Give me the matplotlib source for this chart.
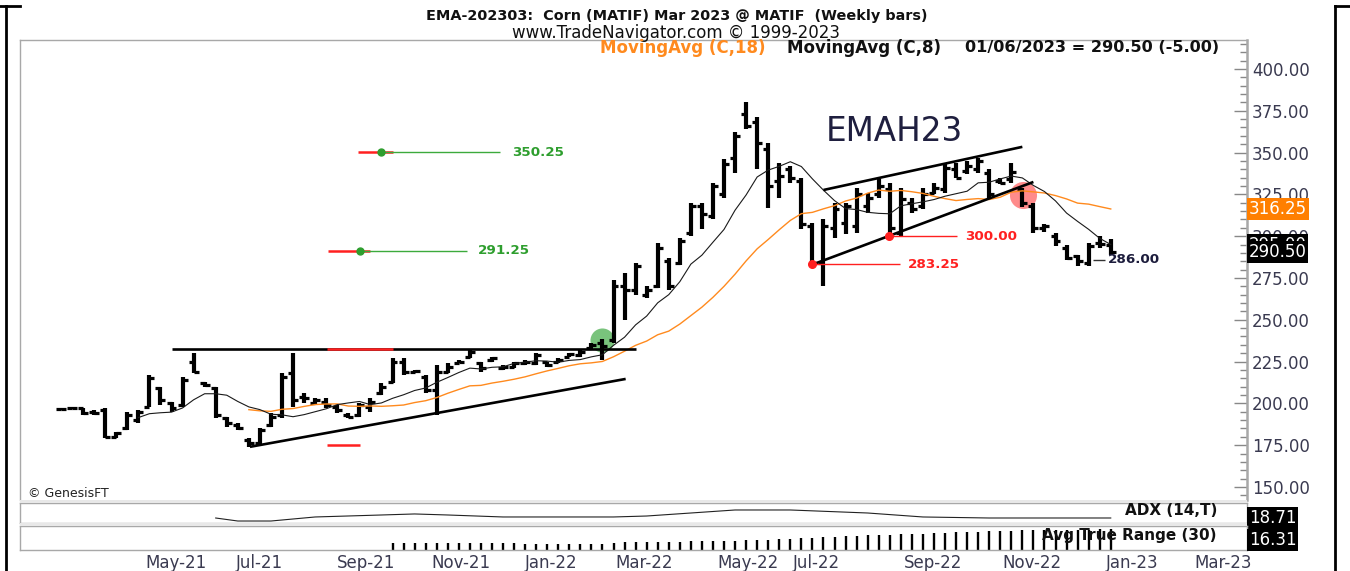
import numpy as np
import pandas as pd
import matplotlib
matplotlib.use("Agg")
import matplotlib.pyplot as plt
import matplotlib.transforms as mtransforms
from matplotlib.patches import Rectangle
from matplotlib.lines import Line2D
from matplotlib.ticker import MultipleLocator, FormatStrFormatter

plt.rcParams['font.family'] = ['DejaVu Sans']

# weekly bars, Corn (MATIF) Mar 2023, last bar 01/06/2023
opens = [196.5, 197, 197, 195, 196, 180, 185, 190, 198, 209,
         200, 199, 225, 212, 209, 191, 187, 178, 176, 187,
         193, 218, 204, 200, 201, 198, 193, 193, 198, 206,
         213, 225, 219, 216, 208, 219, 224, 228, 224, 226,
         221, 222, 224, 224, 225, 225, 228, 229, 233, 236,
         238, 270, 268, 265, 270, 285, 284, 302, 318, 312,
         325, 347, 373, 368, 352, 333, 340, 333, 306, 284,
         305, 308, 306, 318, 325, 328, 302, 320, 318, 326,
         328, 340, 339, 340, 338, 333, 334, 328, 318, 305,
         300, 293, 288, 284, 296, 295]
highs = [197, 198, 197.5, 196, 197, 183, 195, 196, 217, 210,
         201, 216, 230, 213, 210, 192, 188, 179, 185, 194,
         218, 230, 206, 203, 203, 199, 194, 200, 203, 212,
         227, 227, 220, 217, 223, 224, 226, 232, 225, 228,
         223, 225, 226, 230, 225, 227, 230, 232, 236, 238.5,
         274, 278, 284, 270, 296, 287, 299, 320, 320, 332,
         346, 362, 380, 371, 356, 344, 342, 335, 308, 310,
         320, 320, 329, 326, 334, 332, 329, 323, 329, 332,
         343, 344, 345, 347, 340, 335, 344, 329, 320, 307,
         302, 295, 289, 296, 300, 298]
lows = [196, 196.5, 193, 193, 179, 179, 184, 188, 198, 199,
        195, 198, 218, 210, 191, 186, 184, 174, 175, 186,
        191, 198, 200, 199, 197, 194, 191, 192, 195, 205,
        212, 217, 218, 206, 193, 218, 224, 227, 219, 225,
        220, 221, 223, 223, 222, 224, 228, 228, 232, 226,
        236, 250, 265, 263, 269, 268, 283, 300, 304, 310,
        323, 338, 364, 340, 317, 323, 332, 304, 282, 270,
        299, 301, 302, 314, 323, 300, 300, 314, 316, 325,
        326, 335, 337, 338, 323, 331, 332, 317.5, 302, 302.5,
        294, 286, 282, 282, 293, 289]
closes = [196.5, 197.5, 194, 194, 180, 182, 193, 195, 215, 202,
          197, 214, 219, 211, 193, 188, 185, 176, 184, 192,
          216, 202, 203, 202, 199, 196, 192, 199, 201, 210,
          225, 219, 219.5, 208, 219, 222, 225, 231, 221, 227,
          222, 224, 225, 229, 223, 226, 229.5, 231, 235, 234,
          270, 268, 282, 268, 293, 270, 297, 318, 313, 330,
          343, 360, 366, 356, 330, 336, 335, 307, 284, 306,
          316, 318, 325, 323, 330, 305, 322, 316, 325, 329,
          341, 335, 342, 345, 325, 332, 338.5, 320, 305, 306,
          297, 287, 285, 294, 295.5, 290.5]

month_labels = ['May-21', 'Jul-21', 'Sep-21', 'Nov-21', 'Jan-22', 'Mar-22',
                'May-22', 'Jul-22', 'Sep-22', 'Nov-22', 'Jan-23', 'Mar-23']
month_pos = [7.6, 15.8, 25.0, 33.5, 42.0, 50.2, 59.4, 66.2, 76.3, 85.2, 94.6, 102.6]

# ADX (14,T)
adx_bars = [14, 16, 19, 23, 29, 32, 35, 40, 50, 53, 57, 61, 66, 73, 78, 84, 95]
adx_vals = [18.7, 14.0, 14.0, 20.3, 23.4, 25.0, 23.4, 20.3, 20.3, 21.8,
            26.5, 31.2, 31.2, 26.5, 20.3, 18.7, 18.71]

# Avg True Range (30), starts at bar 30
atr_vals = [9.4, 9.4, 9.5, 9.5, 9.6, 9.5, 9.5, 9.4, 9.4, 9.3,
            9.3, 9.3, 9.2, 9.2, 9.2, 9.1, 9.1, 9.1, 9.1, 9.2,
            9.6, 9.8, 9.9, 10.0, 10.1, 10.2, 10.2, 10.3, 10.4, 10.5,
            10.6, 10.6, 10.8, 11.0, 11.2, 11.4, 11.6, 11.9, 12.2, 12.5,
            12.7, 12.9, 13.1, 13.3, 13.5, 13.7, 13.9, 14.1, 14.2, 14.4,
            14.6, 14.8, 15.0, 15.2, 15.4, 15.6, 15.7, 15.8, 15.9, 16.0,
            16.1, 16.1, 16.2, 16.2, 16.3, 16.31]

# hand drawn study lines (bar index, price)
trend_x = [(10.05, 52.0), (17.1, 51.1), (69.0, 87.0), (68.0, 88.0)]
trend_y = [(232.5, 232.5), (174.0, 214.6), (327.6, 353.4), (283.0, 332.4)]

pivot_bars = [68.0, 74.9]
pivot_prices = [283.25, 300.00]
target_bars = [29.0, 27.1]
target_prices = [350.25, 291.25]

W, H = 1350, 571
fig = plt.figure(figsize=(W / 100, H / 100), dpi=100)


def fx(px):
    return px / W


def fy(py):
    return 1 - py / H


def bar_x(px):
    return (px - 61) / 11.05


gray = '#a8a8a8'
txtc = '#3a3a50'

ax = fig.add_axes([fx(20), fy(500), fx(1247) - fx(20), (500 - 40) / H])
ax_adx = fig.add_axes([fx(20), fy(523), fx(1247) - fx(20), (523 - 503) / H], sharex=ax)
ax_atr = fig.add_axes([fx(20), fy(550), fx(1247) - fx(20), (550 - 526) / H], sharex=ax)

for y0, y1 in [(500, 503), (523, 526)]:
    fig.patches.append(Rectangle((fx(20), fy(y1)), fx(1247) - fx(20), (y1 - y0) / H,
                                 transform=fig.transFigure, fc='#e8e8e8', ec='none'))

idx = np.arange(len(closes))
c = pd.Series(closes)
ma8 = c.rolling(8).mean()
ma18 = c.rolling(18).mean()

# price bars
ax.vlines(idx, lows, highs, color='black', lw=3.0, zorder=3)
ax.hlines(opens, idx - 0.45, idx, color='black', lw=2.3, zorder=3)
ax.hlines(closes, idx, idx + 0.45, color='black', lw=2.3, zorder=3)

ax.plot(idx, ma18, color='#ff8a1e', lw=1.0, zorder=4)
ax.plot(idx, ma8, color='#1a1a1a', lw=0.8, zorder=4)

for (x0, x1), (y0, y1) in zip(trend_x, trend_y):
    ax.plot([x0, x1], [y0, y1], color='black', lw=1.9, solid_capstyle='butt', zorder=5)

# breakout / breakdown circles
ax.scatter([49.0], [237.9], s=300, color='#4caf50', alpha=0.75, lw=0, zorder=2)
ax.scatter([87.1], [324.6], s=380, color='#ff5a5a', alpha=0.7, lw=0, zorder=2)

red = '#ff2020'
green = '#2e9e2e'
for bx, p, x_end, x_lab in zip(pivot_bars, pivot_prices, [bar_x(900), bar_x(957)],
                               [bar_x(908), bar_x(965)]):
    ax.hlines(p, bx, x_end, color=red, lw=1.0, zorder=6)
    ax.plot(bx, p, 'o', color=red, ms=5.5, zorder=6)
    ax.text(x_lab, p, f'{p:.2f}', color=red, fontsize=9.7, fontweight='bold',
            ha='left', va='center', zorder=6)

for bx, p, r0, r1, x_end, x_lab in zip(target_bars, target_prices,
                                       [bar_x(358), bar_x(328)], [bar_x(393), bar_x(370)],
                                       [bar_x(500), bar_x(467)], [bar_x(512), bar_x(478)]):
    ax.hlines(p, r0, r1, color=red, lw=1.8, zorder=6)
    ax.hlines(p, bx, x_end, color='#3caa3c', lw=1.0, zorder=6)
    ax.plot(bx, p, 'o', color=green, ms=5, zorder=7)
    ax.text(x_lab, p, f'{p:.2f}', color=green, fontsize=9.7, fontweight='bold',
            ha='left', va='center', zorder=6)

ax.hlines(232.5, bar_x(327), bar_x(393), color=red, lw=1.8, zorder=6)
ax.hlines(175.0, bar_x(327), bar_x(360), color=red, lw=1.8, zorder=6)

ax.hlines(286.0, bar_x(1093), bar_x(1105), color='#333333', lw=1.0, zorder=6)
ax.text(bar_x(1108), 286.0, '286.00', color='#1c1c3c', fontsize=9.7, fontweight='bold',
        ha='left', va='center', zorder=6)

ax.text(bar_x(826), 362.3, 'EMAH23', color='#1f1f3f', fontsize=23.5, ha='left', va='center')
ax.text(bar_x(28), 146.0, '© GenesisFT', color='#222222', fontsize=9, ha='left', va='center')

ax.set_xlim(bar_x(20), bar_x(1247))
ax.set_ylim(142.2, 417.3)

for a in (ax, ax_adx, ax_atr):
    a.set_facecolor('white')
    for s in a.spines.values():
        s.set_color(gray)
        s.set_linewidth(1.0)
ax.spines['bottom'].set_visible(False)
ax.spines['right'].set_linewidth(1.8)

ax.yaxis.tick_right()
ax.yaxis.set_major_locator(MultipleLocator(25))
ax.yaxis.set_minor_locator(MultipleLocator(5))
ax.yaxis.set_major_formatter(FormatStrFormatter('%.2f'))
ax.tick_params(axis='y', which='major', direction='in', length=9.5, width=1.0,
               color='#888888', labelsize=12, labelcolor=txtc, pad=3.5)
ax.tick_params(axis='y', which='minor', direction='in', length=5, width=1.0, color='#888888')
ax.tick_params(axis='x', bottom=False, labelbottom=False)

# right side value boxes
blend = mtransforms.blended_transform_factory(ax.transAxes, ax.transData)
ax.text(1.0015, ma8.iloc[-1], f'{ma8.iloc[-1]:.2f}', transform=blend, color='white',
        fontsize=12, ha='left', va='center', clip_on=False, zorder=8,
        bbox=dict(boxstyle='square,pad=0.1', fc='black', ec='none'))
ax.text(1.0015, ma18.iloc[-1], '316.25', transform=blend, color='white',
        fontsize=12, ha='left', va='center', clip_on=False, zorder=8,
        bbox=dict(boxstyle='square,pad=0.1', fc='#ff7f00', ec='none'))
ax.text(1.0015, closes[-1], f'{closes[-1]:.2f}', transform=blend, color='white',
        fontsize=12, ha='left', va='center', clip_on=False, zorder=9,
        bbox=dict(boxstyle='square,pad=0.1', fc='black', ec='none'))

# ADX panel
ax_adx.plot(adx_bars, adx_vals, color='#222222', lw=0.8)
ax_adx.set_ylim(10.9, 42.1)
ax_adx.tick_params(left=False, right=False, bottom=False, labelleft=False, labelbottom=False)
ax_adx.text(bar_x(1217), 0.62, 'ADX (14,T)', transform=mtransforms.blended_transform_factory(
    ax_adx.transData, ax_adx.transAxes), fontsize=11, fontweight='bold', ha='right',
    va='center', color='#111111')
blend_adx = mtransforms.blended_transform_factory(ax_adx.transAxes, ax_adx.transData)
ax_adx.text(1.0015, adx_vals[-1], f'{adx_vals[-1]:.2f}', transform=blend_adx, color='white',
            fontsize=12, ha='left', va='center', clip_on=False,
            bbox=dict(boxstyle='square,pad=0.1', fc='black', ec='none'))

# ATR panel
atr_idx = np.arange(30, 30 + len(atr_vals))
ax_atr.vlines(atr_idx, 6.0, atr_vals, color='black', lw=1.7)
ax_atr.set_ylim(6.0, 18.0)
ax_atr.tick_params(left=False, right=False, labelleft=False)
ax_atr.set_xticks(month_pos)
ax_atr.set_xticklabels(month_labels, ha='left')
ax_atr.tick_params(axis='x', length=0, pad=3, labelsize=12, labelcolor=txtc)
ax_atr.text(bar_x(1217), 0.6, 'Avg True Range (30)', transform=mtransforms.blended_transform_factory(
    ax_atr.transData, ax_atr.transAxes), fontsize=11, fontweight='bold', ha='right',
    va='center', color='#111111')
ax_atr.text(1.0015, 0.42, f'{atr_vals[-1]:.2f}', transform=ax_atr.transAxes, color='white',
            fontsize=12, ha='left', va='center', clip_on=False,
            bbox=dict(boxstyle='square,pad=0.1', fc='black', ec='none'))

# header
fig.text(fx(677), fy(16), 'EMA-202303:  Corn (MATIF) Mar 2023 @ MATIF  (Weekly bars)',
         ha='center', va='center', fontsize=10.4, fontweight='bold', color='#111111')
fig.text(fx(676), fy(33), 'www.TradeNavigator.com © 1999-2023',
         ha='center', va='center', fontsize=12, color='#111111')
fig.text(fx(600), fy(48), 'MovingAvg (C,18)', ha='left', va='center', fontsize=12,
         fontweight='bold', color='#ff8a1e')
fig.text(fx(787), fy(48), 'MovingAvg (C,8)', ha='left', va='center', fontsize=12,
         fontweight='bold', color='#111111')
fig.text(fx(965), fy(48), '01/06/2023 = 290.50 (-5.00)', ha='left', va='center', fontsize=11.6,
         fontweight='bold', color='#111111')

# window border
for xs, ys in [([6, 6], [6, 571]), ([1335, 1335], [6, 571]), ([0, 20], [6, 6]), ([1335, 1350], [6, 6])]:
    fig.lines.append(Line2D([fx(v) for v in xs], [fy(v) for v in ys], transform=fig.transFigure,
                            color='black', lw=2.0))

fig.savefig('out.png', dpi=100)
